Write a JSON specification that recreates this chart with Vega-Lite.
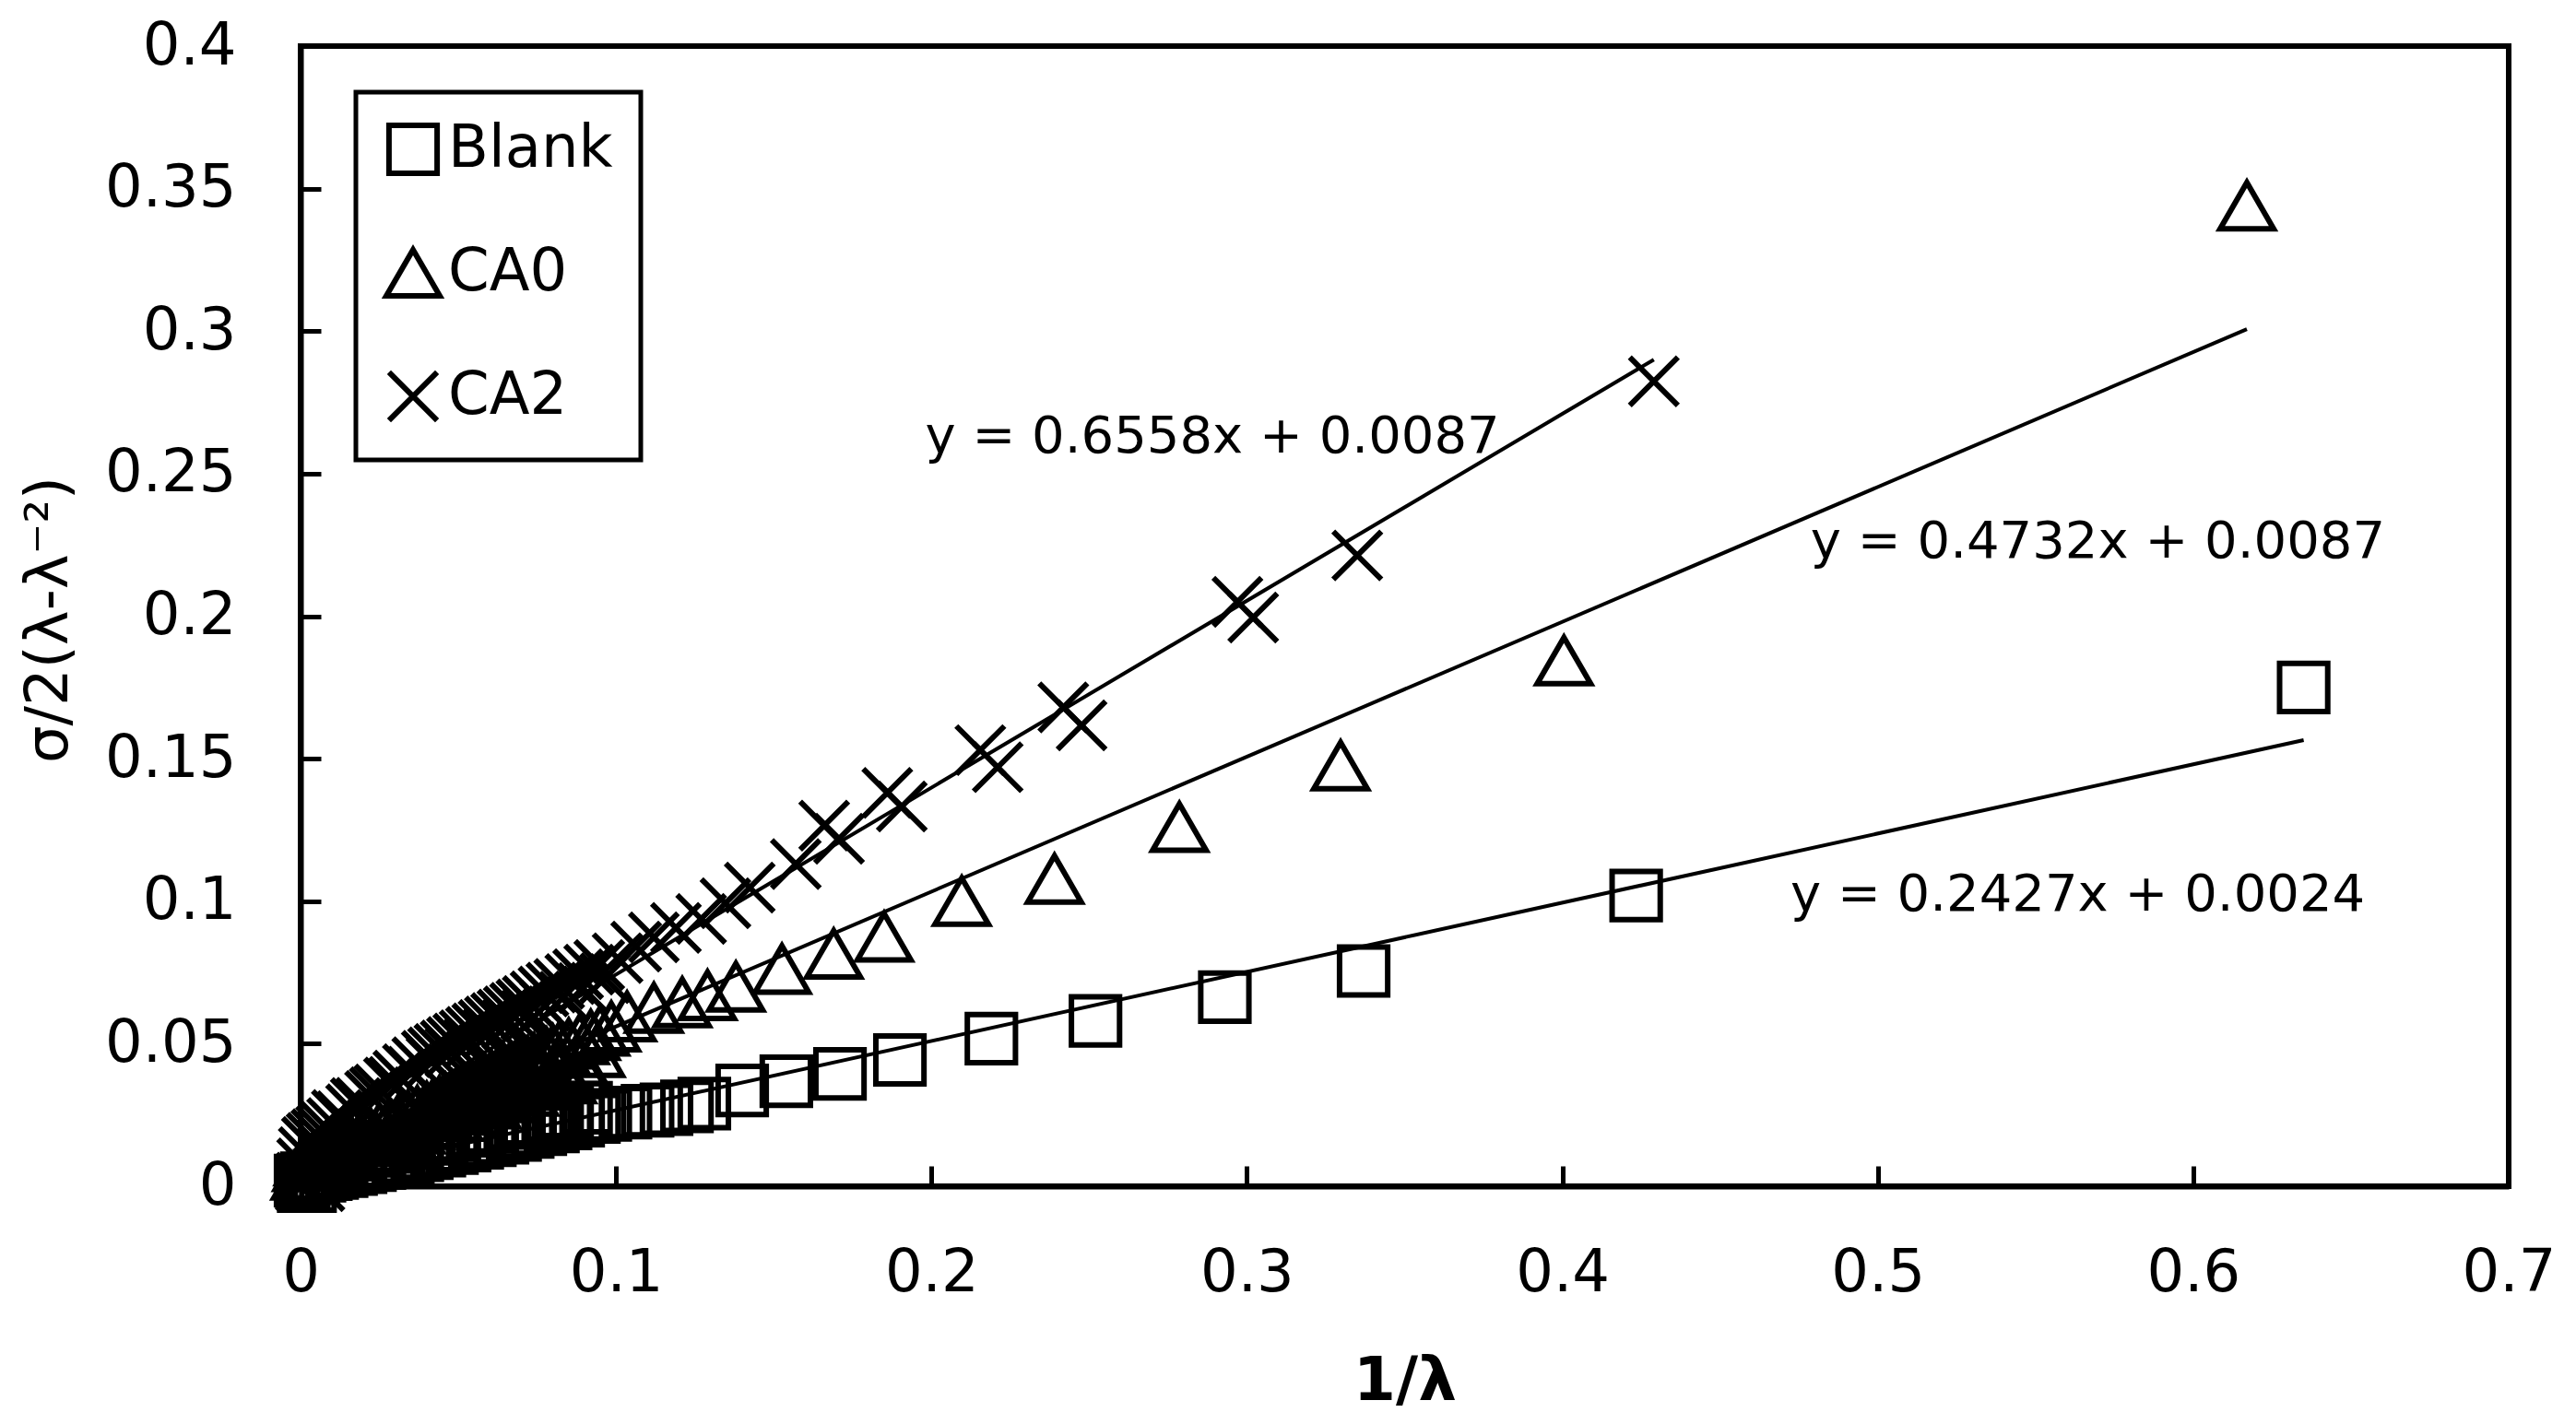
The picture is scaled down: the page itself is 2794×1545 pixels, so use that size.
{
  "$schema": "https://vega.github.io/schema/vega-lite/v6.json",
  "width": 2395,
  "height": 1237,
  "autosize": {"type": "none"},
  "padding": {"left": 326, "top": 50, "right": 73, "bottom": 258},
  "background": "white",
  "config": {
    "view": {"stroke": "black", "strokeWidth": 6},
    "font": "DejaVu Sans",
    "legend": {"strokeColor": "black", "strokeWidth": 5},
    "axis": {
      "domainColor": "black", "domainWidth": 6,
      "tickColor": "black", "tickWidth": 5, "tickSize": -22,
      "grid": false, "labelFlush": false,
      "labelFont": "DejaVu Sans", "labelFontSize": 64, "labelColor": "black",
      "titleColor": "black"
    }
  },
  "datasets": {
    "pts": [
      {"s":"CA2","x":0.429,"y":0.2824},{"s":"CA2","x":0.335,"y":0.2213},{"s":"CA2","x":0.302,"y":0.1995},{"s":"CA2","x":0.297,"y":0.2050},
      {"s":"CA2","x":0.2476,"y":0.1617},{"s":"CA2","x":0.2418,"y":0.1680},{"s":"CA2","x":0.221,"y":0.1470},{"s":"CA2","x":0.2155,"y":0.1530},
      {"s":"CA2","x":0.1906,"y":0.1332},{"s":"CA2","x":0.1860,"y":0.1380},{"s":"CA2","x":0.1707,"y":0.1219},{"s":"CA2","x":0.1660,"y":0.1265},
      {"s":"CA2","x":0.157,"y":0.1130},{"s":"CA2","x":0.1424,"y":0.1048},{"s":"CA2","x":0.1347,"y":0.0993},{"s":"CA2","x":0.127,"y":0.0938},
      {"s":"CA2","x":0.119,"y":0.0906},{"s":"CA2","x":0.112,"y":0.0873},{"s":"CA2","x":0.1064,"y":0.0841},{"s":"CA2","x":0.1005,"y":0.0800},
      {"s":"CA2","x":0.0947,"y":0.0776},{"s":"CA2","x":0.0915,"y":0.0760},{"s":"CA2","x":0.088,"y":0.0744},{"s":"CA2","x":0.0855,"y":0.0727},
      {"s":"CA2","x":0.082,"y":0.0710},{"s":"CA2","x":0.0795,"y":0.0697},{"s":"CA2","x":0.077,"y":0.0683},{"s":"CA2","x":0.0745,"y":0.0666},
      {"s":"CA2","x":0.072,"y":0.0650},{"s":"CA2","x":0.070,"y":0.0638},{"s":"CA2","x":0.068,"y":0.0626},{"s":"CA2","x":0.066,"y":0.0614},
      {"s":"CA2","x":0.064,"y":0.0602},{"s":"CA2","x":0.062,"y":0.0590},{"s":"CA2","x":0.060,"y":0.0578},{"s":"CA2","x":0.058,"y":0.0566},
      {"s":"CA2","x":0.056,"y":0.0554},{"s":"CA2","x":0.054,"y":0.0542},{"s":"CA2","x":0.052,"y":0.0530},{"s":"CA2","x":0.050,"y":0.0518},
      {"s":"CA2","x":0.048,"y":0.0506},{"s":"CA2","x":0.046,"y":0.0494},{"s":"CA2","x":0.044,"y":0.0482},{"s":"CA2","x":0.042,"y":0.0470},
      {"s":"CA2","x":0.040,"y":0.0458},{"s":"CA2","x":0.037,"y":0.0435},{"s":"CA2","x":0.034,"y":0.0411},{"s":"CA2","x":0.031,"y":0.0388},
      {"s":"CA2","x":0.028,"y":0.0364},{"s":"CA2","x":0.025,"y":0.0340},{"s":"CA2","x":0.022,"y":0.0317},{"s":"CA2","x":0.019,"y":0.0293},
      {"s":"CA2","x":0.016,"y":0.0270},{"s":"CA2","x":0.013,"y":0.0246},{"s":"CA2","x":0.010,"y":0.0222},{"s":"CA2","x":0.008,"y":0.0207},
      {"s":"CA2","x":0.0065,"y":0.0195},{"s":"CA2","x":0.005,"y":0.0183},{"s":"CA2","x":0.0035,"y":0.0170},{"s":"CA2","x":0.002,"y":0.0155},
      {"s":"CA2","x":0.001,"y":0.0120},{"s":"CA2","x":0.0005,"y":0.0080},{"s":"CA2","x":0.0,"y":0.0030},{"s":"CA2","x":0.0,"y":0.0},
      {"s":"CA2","x":0.006,"y":0.0},
      {"s":"CA2","x":0.0965,"y":0.0730},{"s":"CA2","x":0.0895,"y":0.0695},{"s":"CA2","x":0.0835,"y":0.0665},{"s":"CA2","x":0.0775,"y":0.0632},
      {"s":"CA2","x":0.0715,"y":0.0600},{"s":"CA2","x":0.0655,"y":0.0568},{"s":"CA2","x":0.0595,"y":0.0536},{"s":"CA2","x":0.0535,"y":0.0502},
      {"s":"CA2","x":0.0475,"y":0.0470},{"s":"CA2","x":0.0415,"y":0.0436},{"s":"CA2","x":0.0355,"y":0.0402},{"s":"CA2","x":0.0295,"y":0.0366},
      {"s":"CA2","x":0.0235,"y":0.0330},{"s":"CA2","x":0.0175,"y":0.0292},{"s":"CA2","x":0.0115,"y":0.0250},
      {"s":"CA0","x":0.617,"y":0.3440},{"s":"CA0","x":0.4005,"y":0.1844},{"s":"CA0","x":0.3297,"y":0.1476},{"s":"CA0","x":0.2786,"y":0.1260},
      {"s":"CA0","x":0.239,"y":0.1078},{"s":"CA0","x":0.2096,"y":0.1000},{"s":"CA0","x":0.185,"y":0.0875},{"s":"CA0","x":0.169,"y":0.0815},
      {"s":"CA0","x":0.1526,"y":0.0762},{"s":"CA0","x":0.138,"y":0.0700},{"s":"CA0","x":0.129,"y":0.0670},{"s":"CA0","x":0.121,"y":0.0645},
      {"s":"CA0","x":0.112,"y":0.0625},{"s":"CA0","x":0.1035,"y":0.0595},{"s":"CA0","x":0.0985,"y":0.0560},{"s":"CA0","x":0.095,"y":0.0545},
      {"s":"CA0","x":0.092,"y":0.0530},{"s":"CA0","x":0.0885,"y":0.0515},{"s":"CA0","x":0.085,"y":0.0500},{"s":"CA0","x":0.082,"y":0.0488},
      {"s":"CA0","x":0.080,"y":0.0478},{"s":"CA0","x":0.078,"y":0.0468},{"s":"CA0","x":0.076,"y":0.0458},{"s":"CA0","x":0.074,"y":0.0448},
      {"s":"CA0","x":0.072,"y":0.0438},{"s":"CA0","x":0.070,"y":0.0428},{"s":"CA0","x":0.068,"y":0.0418},{"s":"CA0","x":0.066,"y":0.0408},
      {"s":"CA0","x":0.064,"y":0.0398},{"s":"CA0","x":0.062,"y":0.0388},{"s":"CA0","x":0.060,"y":0.0378},{"s":"CA0","x":0.058,"y":0.0368},
      {"s":"CA0","x":0.056,"y":0.0358},{"s":"CA0","x":0.054,"y":0.0348},{"s":"CA0","x":0.052,"y":0.0338},{"s":"CA0","x":0.050,"y":0.0328},
      {"s":"CA0","x":0.048,"y":0.0318},{"s":"CA0","x":0.046,"y":0.0308},{"s":"CA0","x":0.044,"y":0.0298},{"s":"CA0","x":0.042,"y":0.0288},
      {"s":"CA0","x":0.040,"y":0.0278},{"s":"CA0","x":0.037,"y":0.0263},{"s":"CA0","x":0.034,"y":0.0248},{"s":"CA0","x":0.031,"y":0.0233},
      {"s":"CA0","x":0.028,"y":0.0218},{"s":"CA0","x":0.025,"y":0.0203},{"s":"CA0","x":0.022,"y":0.0188},{"s":"CA0","x":0.019,"y":0.0173},
      {"s":"CA0","x":0.016,"y":0.0158},{"s":"CA0","x":0.013,"y":0.0143},{"s":"CA0","x":0.010,"y":0.0128},{"s":"CA0","x":0.008,"y":0.0118},
      {"s":"CA0","x":0.006,"y":0.0110},{"s":"CA0","x":0.004,"y":0.0102},{"s":"CA0","x":0.002,"y":0.0095},{"s":"CA0","x":0.001,"y":0.0090},
      {"s":"CA0","x":0.0005,"y":0.0070},{"s":"CA0","x":0.0,"y":0.0040},
      {"s":"CA0","x":0.0935,"y":0.0470},{"s":"CA0","x":0.0875,"y":0.0442},{"s":"CA0","x":0.0815,"y":0.0414},{"s":"CA0","x":0.0755,"y":0.0386},
      {"s":"CA0","x":0.0695,"y":0.0358},{"s":"CA0","x":0.0635,"y":0.0330},{"s":"CA0","x":0.0575,"y":0.0302},{"s":"CA0","x":0.0515,"y":0.0274},
      {"s":"CA0","x":0.0455,"y":0.0246},{"s":"CA0","x":0.0395,"y":0.0218},{"s":"CA0","x":0.0335,"y":0.0190},{"s":"CA0","x":0.0275,"y":0.0164},
      {"s":"CA0","x":0.0215,"y":0.0138},{"s":"CA0","x":0.0155,"y":0.0112},
      {"s":"CA0","x":0.0905,"y":0.0400},{"s":"CA0","x":0.0845,"y":0.0378},{"s":"CA0","x":0.0785,"y":0.0356},{"s":"CA0","x":0.0725,"y":0.0334},
      {"s":"CA0","x":0.0665,"y":0.0312},{"s":"CA0","x":0.0605,"y":0.0290},{"s":"CA0","x":0.0545,"y":0.0268},{"s":"CA0","x":0.0485,"y":0.0246},
      {"s":"CA0","x":0.0425,"y":0.0224},{"s":"CA0","x":0.0365,"y":0.0202},{"s":"CA0","x":0.0305,"y":0.0180},{"s":"CA0","x":0.0245,"y":0.0158},
      {"s":"CA0","x":0.0185,"y":0.0136},{"s":"CA0","x":0.0125,"y":0.0114},
      {"s":"Blank","x":0.635,"y":0.1750},{"s":"Blank","x":0.4234,"y":0.1020},{"s":"Blank","x":0.337,"y":0.0755},{"s":"Blank","x":0.293,"y":0.0663},
      {"s":"Blank","x":0.252,"y":0.0580},{"s":"Blank","x":0.219,"y":0.0518},{"s":"Blank","x":0.190,"y":0.0443},{"s":"Blank","x":0.171,"y":0.0394},
      {"s":"Blank","x":0.154,"y":0.0368},{"s":"Blank","x":0.140,"y":0.0336},{"s":"Blank","x":0.128,"y":0.0290},{"s":"Blank","x":0.1225,"y":0.0280},
      {"s":"Blank","x":0.116,"y":0.0270},{"s":"Blank","x":0.110,"y":0.0265},{"s":"Blank","x":0.103,"y":0.0258},{"s":"Blank","x":0.0966,"y":0.0250},
      {"s":"Blank","x":0.093,"y":0.0243},{"s":"Blank","x":0.088,"y":0.0230},{"s":"Blank","x":0.084,"y":0.0220},{"s":"Blank","x":0.080,"y":0.0210},
      {"s":"Blank","x":0.076,"y":0.0200},{"s":"Blank","x":0.072,"y":0.0190},{"s":"Blank","x":0.068,"y":0.0180},{"s":"Blank","x":0.064,"y":0.0170},
      {"s":"Blank","x":0.060,"y":0.0161},{"s":"Blank","x":0.056,"y":0.0152},{"s":"Blank","x":0.052,"y":0.0143},{"s":"Blank","x":0.048,"y":0.0134},
      {"s":"Blank","x":0.044,"y":0.0125},{"s":"Blank","x":0.040,"y":0.0116},{"s":"Blank","x":0.037,"y":0.0109},{"s":"Blank","x":0.034,"y":0.0102},
      {"s":"Blank","x":0.031,"y":0.0095},{"s":"Blank","x":0.028,"y":0.0088},{"s":"Blank","x":0.025,"y":0.0081},{"s":"Blank","x":0.022,"y":0.0074},
      {"s":"Blank","x":0.019,"y":0.0067},{"s":"Blank","x":0.016,"y":0.0060},{"s":"Blank","x":0.013,"y":0.0053},{"s":"Blank","x":0.010,"y":0.0046},
      {"s":"Blank","x":0.008,"y":0.0042},{"s":"Blank","x":0.006,"y":0.0037},{"s":"Blank","x":0.004,"y":0.0032},{"s":"Blank","x":0.002,"y":0.0028},
      {"s":"Blank","x":0.0,"y":0.0020},{"s":"Blank","x":0.001,"y":0.0},{"s":"Blank","x":0.003,"y":0.0},
      {"s":"Blank","x":0.0905,"y":0.0275},{"s":"Blank","x":0.0845,"y":0.0262},{"s":"Blank","x":0.0785,"y":0.0249},{"s":"Blank","x":0.0725,"y":0.0236},
      {"s":"Blank","x":0.0665,"y":0.0222},{"s":"Blank","x":0.0605,"y":0.0208},{"s":"Blank","x":0.0545,"y":0.0194},{"s":"Blank","x":0.0485,"y":0.0180},
      {"s":"Blank","x":0.0425,"y":0.0166},{"s":"Blank","x":0.0365,"y":0.0152},{"s":"Blank","x":0.0305,"y":0.0138},{"s":"Blank","x":0.0245,"y":0.0124},
      {"s":"Blank","x":0.0185,"y":0.0110},{"s":"Blank","x":0.0125,"y":0.0096}
    ],
    "fits": [
      {"s":"Blank","x":0,"y":0.0024},{"s":"Blank","x":0.635,"y":0.1565},
      {"s":"CA0","x":0,"y":0.0087},{"s":"CA0","x":0.617,"y":0.3007},
      {"s":"CA2","x":0,"y":0.0087},{"s":"CA2","x":0.429,"y":0.2900}
    ],
    "eqs": [
      {"label":"y = 0.6558x + 0.0087","x":0.198,"y":0.263},
      {"label":"y = 0.4732x + 0.0087","x":0.4787,"y":0.226},
      {"label":"y = 0.2427x + 0.0024","x":0.4723,"y":0.1022}
    ]
  },
  "encoding": {
    "x": {"field": "x", "type": "quantitative",
      "scale": {"domain": [0, 0.7], "nice": false, "zero": false},
      "axis": {"values": [0,0.1,0.2,0.3,0.4,0.5,0.6,0.7], "format": "~g", "labelPadding": 84,
        "title": "1/λ", "titleFontSize": 66, "titleFontWeight": "bold", "titleFont": "DejaVu Sans",
        "titleBaseline": "alphabetic", "titleY": 231}},
    "y": {"field": "y", "type": "quantitative",
      "scale": {"domain": [0, 0.4], "nice": false, "zero": false},
      "axis": {"values": [0,0.05,0.1,0.15,0.2,0.25,0.3,0.35,0.4], "format": "~g", "labelPadding": 92,
        "title": "σ/2(λ-λ⁻²)", "titleFontSize": 64, "titleFontWeight": "normal", "titleFont": "DejaVu Sans",
        "titleBaseline": "middle", "titleX": -273, "titleY": 622, "titleAngle": -90}}
  },
  "layer": [
    {
      "data": {"name": "pts"},
      "mark": {"type": "point", "filled": false, "color": "black", "strokeWidth": 6, "size": 3364, "opacity": 1},
      "encoding": {
        "shape": {"field": "s", "type": "nominal",
          "scale": {"domain": ["Blank", "CA0", "CA2"],
            "range": ["M-0.9,-0.9H0.9V0.9H-0.9Z", "M0,-0.866L1,0.866L-1,0.866Z", "M-0.9,-0.9L0.9,0.9M-0.9,0.9L0.9,-0.9"]},
          "legend": {"orient": "none", "legendX": 60, "legendY": 50, "title": null,
            "strokeColor": "black", "fillColor": "white", "padding": 30,
            "symbolSize": 3364, "symbolStrokeWidth": 6, "symbolStrokeColor": "black", "symbolFillColor": "transparent",
            "labelFont": "DejaVu Sans", "labelFontSize": 64, "labelColor": "black", "labelOffset": 6, "rowPadding": 57, "labelLimit": 0,
            "encode": {"legend": {"update": {"stroke": {"value": "black"}, "strokeWidth": {"value": 5}}}}}}
      }
    },
    {
      "data": {"name": "fits"},
      "mark": {"type": "line", "color": "black", "strokeWidth": 4},
      "encoding": {"detail": {"field": "s", "type": "nominal"}}
    },
    {
      "data": {"name": "eqs"},
      "mark": {"type": "text", "align": "left", "baseline": "middle", "fontSize": 56, "font": "DejaVu Sans", "color": "black"},
      "encoding": {"text": {"field": "label", "type": "nominal"}}
    }
  ]
}
